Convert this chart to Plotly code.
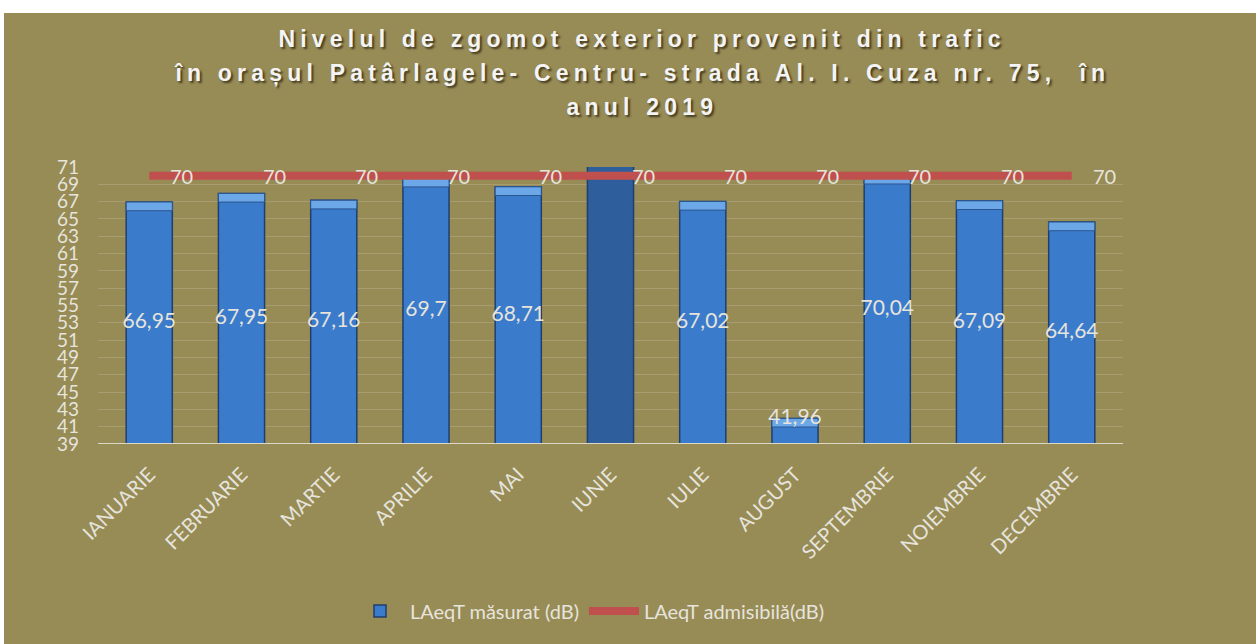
import plotly.graph_objects as go

# Monthly traffic noise levels, LAeqT (dB)
months = ["IANUARIE", "FEBRUARIE", "MARTIE", "APRILIE", "MAI", "IUNIE",
          "IULIE", "AUGUST", "SEPTEMBRIE", "NOIEMBRIE", "DECEMBRIE"]
measured = [66.95, 67.95, 67.16, 69.7, 68.71, 72.6, 67.02, 41.96, 70.04, 67.09, 64.64]
admissible = [70, 70, 70, 70, 70, 70, 70, 70, 70, 70, 70]

title_lines = [
    "Nivelul de zgomot exterior provenit din trafic",
    "în orașul Patârlagele- Centru- strada Al. I. Cuza nr. 75,  în",
    "anul 2019",
]
y_ticks = list(range(39, 72, 2))

Y_MIN, Y_MAX = 39, 71
W, H = 1256, 644
ML, MR, MT, MB = 98, 133, 167, 200

BG = "#978B56"
TXT = "#E6E4DC"
BAR = "#3B7BCB"
BAR_DARK = "#2E5E9C"
CAP = "#6CA8E8"
RED = "#C0504D"
FONT = "Lato"


def fmt(v):
    return ("%g" % v).replace(".", ",")


def label_y(v):
    # centre of the bar, or the bar top when the bar is too short
    return v if v - Y_MIN < 4 else (Y_MIN + v) / 2


visible = [v <= Y_MAX for v in measured]
bar_colors = [BAR if ok else BAR_DARK for ok in visible]

fig = go.Figure()

fig.add_trace(go.Bar(
    x=months, y=[v - Y_MIN for v in measured], base=Y_MIN,
    name="LAeqT măsurat (dB)",
    marker=dict(color=bar_colors, line=dict(color="#1F3F6E", width=1.5)),
    hoverinfo="skip",
))
# lighter bevel band on top of each bar
cap_h = 1.0
fig.add_trace(go.Bar(
    x=months, y=[cap_h] * len(measured), base=[v - cap_h for v in measured],
    marker=dict(color=CAP, line=dict(color="#2A5590", width=1)),
    showlegend=False, hoverinfo="skip",
))

fig.add_trace(go.Scatter(
    x=months, y=[label_y(v) for v in measured],
    text=[fmt(v) if ok else "" for v, ok in zip(measured, visible)],
    mode="text", textfont=dict(family=FONT, size=21, color=TXT),
    showlegend=False, hoverinfo="skip", cliponaxis=False,
))

fig.add_trace(go.Scatter(
    x=months, y=admissible, name="LAeqT admisibilă(dB)",
    mode="lines", line=dict(color=RED, width=8),
    hoverinfo="skip", cliponaxis=False,
))

plot_w, plot_h = W - ML - MR, H - MT - MB

# three-line heading (annotations 0..2)
for i, line in enumerate(title_lines):
    fig.add_annotation(
        text="<b>%s</b>" % line, xref="paper", yref="paper",
        x=(642 - ML) / plot_w, y=1 + (MT - (39 + 34 * i)) / plot_h,
        showarrow=False, xanchor="center", yanchor="middle",
        font=dict(family="Liberation Sans", size=23, color="#F4F4F4",
                  shadow="2px 2px 2px rgba(40,35,15,0.75)"),
    )

# value labels of the admissible limit, placed right of each point
for m, v in zip(months, admissible):
    fig.add_annotation(
        x=m, y=v, text=fmt(v), showarrow=False, xanchor="left",
        yanchor="middle", xshift=19,
        font=dict(family=FONT, size=20, color=TXT),
    )

# white strip along the top and left edges of the page
fig.add_shape(type="rect", xref="paper", yref="paper", layer="above",
              x0=-ML / plot_w - 0.01, x1=1 + MR / plot_w + 0.01,
              y0=1 + (MT - 13) / plot_h, y1=1 + MT / plot_h + 0.01,
              fillcolor="white", line_width=0)
fig.add_shape(type="rect", xref="paper", yref="paper", layer="above",
              x0=-ML / plot_w - 0.01, x1=-(ML - 4) / plot_w,
              y0=-MB / plot_h - 0.01, y1=1 + MT / plot_h + 0.01,
              fillcolor="white", line_width=0)

fig.update_layout(
    width=W, height=H,
    margin=dict(l=ML, r=MR, t=MT, b=MB),
    paper_bgcolor=BG, plot_bgcolor=BG,
    barmode="overlay", bargap=0.5,
    showlegend=True,
    legend=dict(orientation="h", x=(590 - ML) / plot_w, xanchor="center",
                y=(444 - 611) / plot_h, yanchor="middle",
                font=dict(family=FONT, size=20, color=TXT),
                bgcolor="rgba(0,0,0,0)", itemwidth=50),
    xaxis=dict(tickangle=-45, tickfont=dict(family=FONT, size=20, color=TXT),
               showgrid=False, showline=False, ticks="",
               ticklabelstandoff=14),
    yaxis=dict(range=[Y_MIN, Y_MAX], tickvals=y_ticks,
               tickfont=dict(family=FONT, size=19, color=TXT),
               gridcolor="rgba(255,255,255,0.16)", gridwidth=1,
               zeroline=False, showline=False, ticklabelstandoff=18),
)
fig.add_hline(y=Y_MIN, line=dict(color="#DCD8C6", width=2))

# wider tracking for the heading lines
spacing_js = """
var gd = document.getElementById('{plot_id}');
function track() {
  [0, 1, 2].forEach(function (i) {
    var t = gd.querySelector('.annotation[data-index="' + i + '"] text');
    if (t) { t.style.letterSpacing = '5.2px'; }
  });
}
track();
gd.on('plotly_afterplot', track);
"""

fig.write_html("out.html", post_script=spacing_js)
